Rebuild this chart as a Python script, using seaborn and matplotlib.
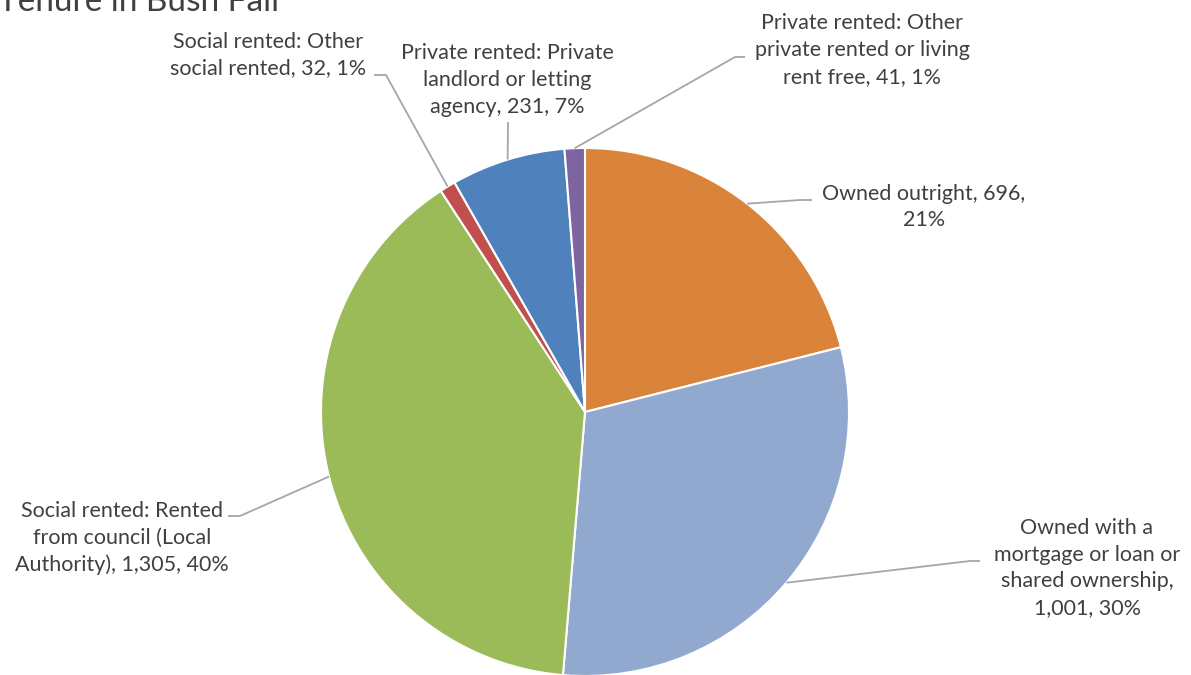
import textwrap
import numpy as np
import matplotlib
matplotlib.use("Agg")
import matplotlib.pyplot as plt
import seaborn as sns

# ---- data ----
categories = [
    "Owned outright",
    "Owned with a mortgage or loan or shared ownership",
    "Social rented: Rented from council (Local Authority)",
    "Social rented: Other social rented",
    "Private rented: Private landlord or letting agency",
    "Private rented: Other private rented or living rent free",
]
values = [696, 1001, 1305, 32, 231, 41]
title = "Tenure in Bush Fall"

# ---- styling ----
colors = ["#DA843B", "#91A9CE", "#9BBB59", "#C0504D", "#4F81BD", "#8064A2"]
wrap_widths = [20, 19, 22, 21, 23, 24]
# label centre (px, top-left origin) and elbow points of leader lines
label_pos = [(924, 207), (1087, 568), (122, 538), (268, 55), (507, 80), (862, 50)]
elbows = [
    [(800, 200), (812, 200)],
    [(970, 561), (980, 561)],
    [(240, 516), (228, 516)],
    [(386, 75), (374, 75)],
    [(508, 122)],
    [(735, 57), (745, 57)],
]

W, H = 1191, 675
sns.set_theme(style="white")
plt.rcParams["font.family"] = ["Lato", "DejaVu Sans"]
text_color = "#404040"
line_color = "#A6A6A6"


def pct_largest_remainder(vals):
    raw = np.array(vals, dtype=float) / sum(vals) * 100
    fl = np.floor(raw).astype(int)
    rem = raw - fl
    short = 100 - fl.sum()
    for idx in np.argsort(-rem)[:short]:
        fl[idx] += 1
    return fl


fig = plt.figure(figsize=(W / 100, H / 100), dpi=100)
ax = fig.add_axes([0, 0, 1, 1])
cx, cy, r = 585, H - 412, 264
wedges, _ = ax.pie(values, colors=colors, startangle=90, counterclock=False,
                   center=(cx, cy), radius=r,
                   wedgeprops=dict(edgecolor="white", linewidth=1.5))
ax.set_xlim(0, W)
ax.set_ylim(0, H)
ax.set_aspect("equal")
ax.axis("off")

pcts = pct_largest_remainder(values)
for i, (w, cat, v) in enumerate(zip(wedges, categories, values)):
    txt = textwrap.fill(f"{cat}, {v:,}, {pcts[i]}%", width=wrap_widths[i])
    ang = np.deg2rad((w.theta1 + w.theta2) / 2)
    ex, ey = cx + r * np.cos(ang), cy + r * np.sin(ang)
    pts = [(ex, ey)] + [(x, H - y) for x, y in elbows[i]]
    xs, ys = zip(*pts)
    ax.plot(xs, ys, color=line_color, lw=1.3, solid_capstyle="butt")
    lx, ly = label_pos[i]
    ax.text(lx, H - ly, txt, ha="center", va="center", ma="center",
            fontsize=15.5, color=text_color, linespacing=1.42)

ax.text(-2, H - 11, title, ha="left", va="baseline", fontsize=24, color=text_color)

fig.savefig("out.png", dpi=100)
